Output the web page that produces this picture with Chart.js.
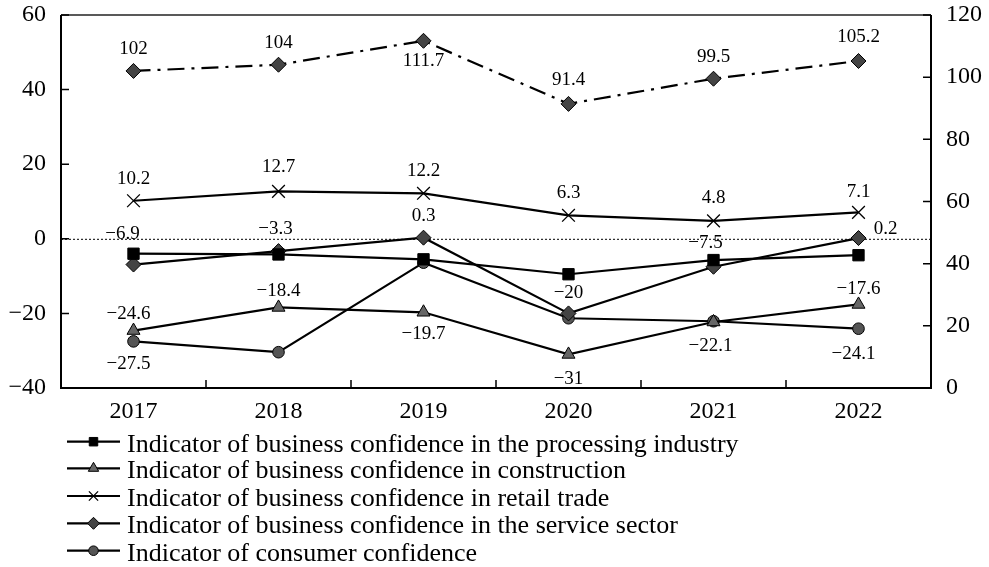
<!DOCTYPE html>
<html><head><meta charset="utf-8">
<script src="https://cdn.jsdelivr.net/npm/chart.js@4.4.0/dist/chart.umd.min.js"></script>
<style>html,body{margin:0;padding:0;background:#fff}#wrap{width:989px;height:567px;position:relative}</style>
</head><body><div id="wrap"><canvas id="c"></canvas></div>
<script>
// ---- data ----
const years = ['2017', '2018', '2019', '2020', '2021', '2022'];
const processing = [-4.0, -4.2, -5.5, -9.5, -5.7, -4.4];
const construction = [-24.6, -18.4, -19.7, -31, -22.3, -17.6];
const retail = [10.2, 12.7, 12.2, 6.3, 4.8, 7.1];
const services = [-6.9, -3.3, 0.3, -20, -7.5, 0.2];
const consumer = [-27.5, -30.4, -6.4, -21.3, -22.1, -24.1];
const composite = [102, 104, 111.7, 91.4, 99.5, 105.2];
const leftTicks = [-40, -20, 0, 20, 40, 60];
const rightTicks = [0, 20, 40, 60, 80, 100, 120];
const legendNames = [
  'Indicator of business confidence in the processing industry',
  'Indicator of business confidence in construction',
  'Indicator of business confidence in retail trade',
  'Indicator of business confidence in the service sector',
  'Indicator of consumer confidence'
];

// ---- label placement (style only) ----
const placeProcessing = [null, null, null, null, null, null];
const placeConstruction = [[-5, -17], [0, -16], [0, 22], [0, 25], null, [0, -15]];
const placeRetail = [[0, -22], [0, -24], [0, -22], [0, -22], [0, -23], [0, -20]];
const placeServices = [[-11, -31], [-3, -22], [0, -22], [0, -20], [-8, -24], [27, -9]];
const placeConsumer = [[-5, 23], null, null, null, [-3, 25], [-5, 25]];
const placeComposite = [[0, -22], [0, -22], [0, 20], [0, -24], [0, -22], [0, -24]];

const SERIF = '"Liberation Serif", "DejaVu Serif", serif';
const fmt = v => (v < 0 ? '\u2212' + String(Math.abs(v)) : String(v));

function ds(label, data, style, place, axis) {
  return Object.assign({
    label, data, yAxisID: axis || 'y', place,
    borderColor: '#000', borderWidth: 2.2, tension: 0,
    pointBorderColor: '#000', pointBorderWidth: 1,
    pointHoverRadius: 0, fill: false, clip: false
  }, style);
}

const datasets = [
  ds(legendNames[0], processing, {pointStyle: 'rect', pointRadius: 8, pointBackgroundColor: '#000', legendRadius: 6}, placeProcessing),
  ds(legendNames[1], construction, {pointStyle: 'triangle', pointRadius: 7.5, pointBackgroundColor: '#666', legendRadius: 6}, placeConstruction),
  ds(legendNames[2], retail, {pointStyle: 'crossRot', pointRadius: 9, pointBorderWidth: 1.3, pointBackgroundColor: '#000', legendRadius: 6.5}, placeRetail),
  ds(legendNames[3], services, {pointStyle: 'rectRot', pointRadius: 7.5, pointBackgroundColor: '#444', legendRadius: 6}, placeServices),
  ds(legendNames[4], consumer, {pointStyle: 'circle', pointRadius: 5.8, pointBackgroundColor: '#555', legendRadius: 4.8}, placeConsumer),
  ds('composite', composite, {pointStyle: 'rectRot', pointRadius: 7.5, pointBackgroundColor: '#444', borderDash: [17, 7, 3, 7], noLegend: true}, placeComposite, 'y2')
];

const decor = {
  id: 'decor',
  beforeDatasetsDraw(chart) {
    const {ctx, chartArea: a, scales} = chart;
    ctx.save();
    const y0 = scales.y.getPixelForValue(0);
    ctx.strokeStyle = '#000'; ctx.lineWidth = 1; ctx.setLineDash([2, 2]);
    ctx.beginPath(); ctx.moveTo(a.left, y0 + 0.5); ctx.lineTo(a.right, y0 + 0.5); ctx.stroke();
    ctx.setLineDash([]);
    ctx.strokeStyle = '#222'; ctx.lineWidth = 1.3;
    ctx.beginPath(); ctx.moveTo(a.left, a.top); ctx.lineTo(a.right, a.top); ctx.stroke();
    ctx.strokeStyle = '#000'; ctx.lineWidth = 2;
    ctx.beginPath();
    ctx.moveTo(a.left, a.top); ctx.lineTo(a.left, a.bottom); ctx.lineTo(a.right, a.bottom); ctx.lineTo(a.right, a.top);
    ctx.stroke();
    ctx.lineWidth = 1.5;
    ctx.beginPath();
    leftTicks.forEach(t => { const y = scales.y.getPixelForValue(t); ctx.moveTo(a.left, y); ctx.lineTo(a.left + 8, y); });
    rightTicks.forEach(t => { const y = scales.y2.getPixelForValue(t); ctx.moveTo(a.right, y); ctx.lineTo(a.right - 8, y); });
    for (let i = 0; i < years.length - 1; i++) {
      const x = (scales.x.getPixelForValue(i) + scales.x.getPixelForValue(i + 1)) / 2;
      ctx.moveTo(x, a.bottom); ctx.lineTo(x, a.bottom - 8);
    }
    ctx.stroke();
    ctx.restore();
  },
  afterDatasetsDraw(chart) {
    const {ctx} = chart;
    ctx.save();
    ctx.fillStyle = '#000';
    ctx.font = '19px ' + SERIF;
    ctx.textAlign = 'center'; ctx.textBaseline = 'middle';
    chart.data.datasets.forEach((d, i) => {
      const meta = chart.getDatasetMeta(i);
      meta.data.forEach((pt, j) => {
        const p = d.place[j];
        if (!p) return;
        ctx.fillText(fmt(d.data[j]), pt.x + p[0], pt.y + p[1]);
      });
    });
    const x0 = 67, x1 = 120, xm = 93.5, xt = 127;
    const rowY = [441.7, 468.3, 496, 523.3, 550.7];
    ctx.font = '26px ' + SERIF;
    ctx.textAlign = 'left'; ctx.textBaseline = 'alphabetic';
    let r = 0;
    chart.data.datasets.forEach(d => {
      if (d.noLegend) return;
      const y = rowY[r++];
      ctx.strokeStyle = '#000'; ctx.lineWidth = 2.2;
      ctx.beginPath(); ctx.moveTo(x0, y); ctx.lineTo(x1, y); ctx.stroke();
      ctx.fillStyle = d.pointBackgroundColor; ctx.strokeStyle = '#000';
      ctx.lineWidth = d.pointBorderWidth;
      Chart.helpers.drawPoint(ctx, {pointStyle: d.pointStyle, radius: d.legendRadius, rotation: 0, borderWidth: d.pointBorderWidth}, xm, y);
      ctx.fillStyle = '#000';
      ctx.fillText(d.label, xt, y + 10);
    });
    ctx.restore();
  }
};

function noPad(s) { s.paddingTop = 0; s.paddingBottom = 0; s.paddingLeft = 0; s.paddingRight = 0; }
const tickFont = {family: SERIF, size: 24};
new Chart(document.getElementById('c'), {
  type: 'line',
  data: {labels: years, datasets},
  options: {
    responsive: true, maintainAspectRatio: false, animation: false,
    layout: {padding: {top: 15, left: 0, right: 0, bottom: 139}},
    plugins: {legend: {display: false}, tooltip: {enabled: false}},
    scales: {
      x: {
        offset: true, grid: {display: false, drawTicks: false}, border: {display: false},
        ticks: {font: tickFont, color: '#000', padding: 9, maxRotation: 0},
        afterFit(s) { s.height = 40; noPad(s); }
      },
      y: {
        position: 'left', min: -40, max: 60,
        grid: {display: false, drawTicks: false}, border: {display: false},
        afterBuildTicks(s) { s.ticks = leftTicks.map(v => ({value: v})); },
        ticks: {font: tickFont, color: '#000', padding: 15, callback: v => fmt(v)},
        afterFit(s) { s.width = 61; noPad(s); }
      },
      y2: {
        position: 'right', min: 0, max: 120,
        grid: {display: false, drawTicks: false}, border: {display: false},
        afterBuildTicks(s) { s.ticks = rightTicks.map(v => ({value: v})); },
        ticks: {font: tickFont, color: '#000', padding: 15, callback: v => fmt(v)},
        afterFit(s) { s.width = 58; noPad(s); }
      }
    }
  },
  plugins: [decor]
});
</script>
</body></html>
